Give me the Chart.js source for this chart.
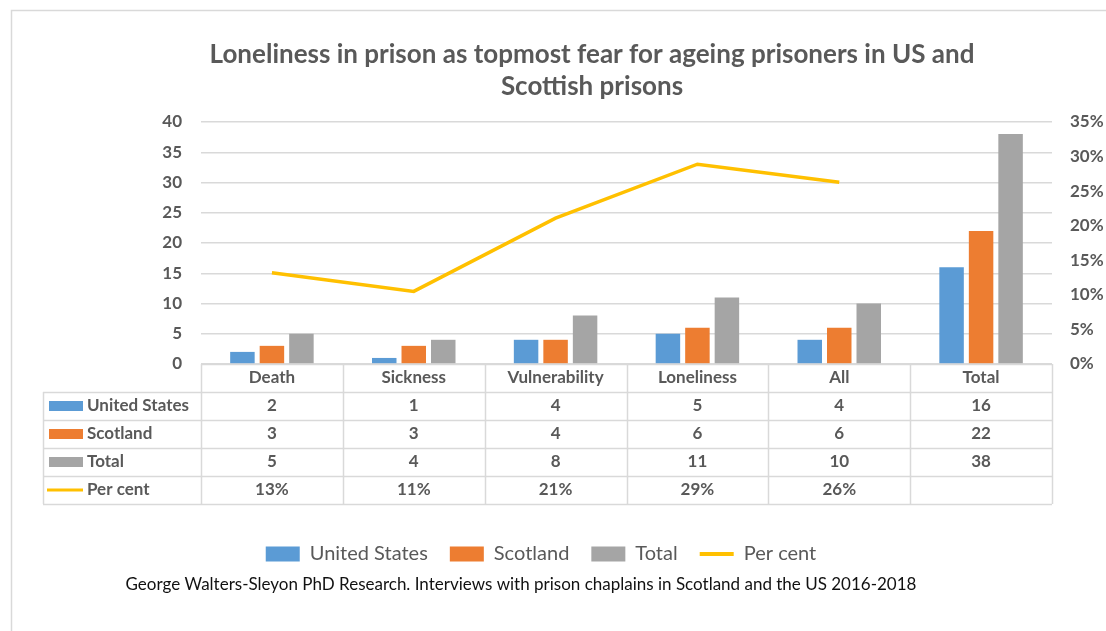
<!DOCTYPE html>
<html>
<head>
<meta charset="utf-8">
<script src="https://cdn.jsdelivr.net/npm/chart.js@4.4.1/dist/chart.umd.min.js"></script>
<style>
  html, body { margin: 0; padding: 0; background: #fff; }
  #wrap { position: relative; width: 1106px; height: 631px; }
</style>
</head>
<body>
<div id="wrap"><canvas id="chart"></canvas></div>
<script>
// categories and counts from the chaplain interviews
var categories = ['Death', 'Sickness', 'Vulnerability', 'Loneliness', 'All', 'Total'];
var unitedStates = [2, 1, 4, 5, 4, 16];
var scotland = [3, 3, 4, 6, 6, 22];
var totals = [5, 4, 8, 11, 10, 38];
// share of all answers, in per cent (no value for the Total column)
var perCent = [13.2, 10.5, 21.1, 28.9, 26.3, null];
var countTicks = [0, 5, 10, 15, 20, 25, 30, 35, 40];
var percentTicks = [0, 5, 10, 15, 20, 25, 30, 35];

var titleText = ['Loneliness in prison as topmost fear for ageing prisoners in US and', 'Scottish prisons'];
var sourceText = 'George Walters-Sleyon PhD Research. Interviews with prison chaplains in Scotland and the US 2016-2018';

var grey = '#595959';
var lineGrey = '#D9D9D9';
var FONT = 'Lato, "Open Sans", sans-serif';
var ROW_H = 28;

Chart.defaults.font.family = FONT;
Chart.defaults.color = grey;

// outer frame of the chart object
var frame = {
  id: 'frame',
  beforeDraw: function(chart) {
    var ctx = chart.ctx;
    ctx.save();
    ctx.fillStyle = '#fff';
    ctx.fillRect(0, 0, chart.width, chart.height);
    ctx.strokeStyle = lineGrey;
    ctx.lineWidth = 1.5;
    ctx.strokeRect(11.5, 10.5, chart.width + 20, chart.height + 20);
    ctx.restore();
  }
};

// move title / legend / source line sideways
var nudge = {
  id: 'nudge',
  afterLayout: function(chart) {
    chart.boxes.forEach(function(b) {
      var d = 0;
      if (b === chart.titleBlock) d = 39;
      else if (b === chart.legend) d = -12;
      else if (b.options && b.options.text === sourceText) d = -32;
      b.left += d;
      b.right += d;
    });
  }
};

// data table under the plot area
var dataTable = {
  id: 'dataTable',
  afterDraw: function(chart) {
    var ctx = chart.ctx, area = chart.chartArea, xs = chart.scales.x;
    var n = categories.length;
    var colW = (area.right - area.left) / n;
    var top = Math.round(area.bottom);
    var left = 43;
    var rows = chart.data.datasets;
    var bottom = top + ROW_H * (rows.length + 1);

    ctx.save();
    ctx.strokeStyle = lineGrey;
    ctx.lineWidth = 1.5;
    ctx.beginPath();
    ctx.moveTo(area.left, top + 0.5);
    ctx.lineTo(area.right, top + 0.5);
    for (var r = 1; r <= rows.length + 1; r++) {
      ctx.moveTo(left, top + r * ROW_H + 0.5);
      ctx.lineTo(area.right, top + r * ROW_H + 0.5);
    }
    for (var c = 0; c <= n; c++) {
      var cx = Math.round(area.left + c * colW) + 0.5;
      ctx.moveTo(cx, top);
      ctx.lineTo(cx, bottom);
    }
    ctx.moveTo(left + 0.5, top + ROW_H);
    ctx.lineTo(left + 0.5, bottom);
    ctx.stroke();

    ctx.fillStyle = grey;
    ctx.font = 'bold 17px ' + FONT;
    ctx.textBaseline = 'middle';
    ctx.textAlign = 'center';
    categories.forEach(function(cat, i) {
      ctx.fillText(cat, xs.getPixelForValue(i), top + ROW_H / 2);
    });

    rows.forEach(function(ds, r) {
      var y = top + (r + 1) * ROW_H + ROW_H / 2;
      // legend key
      if (ds.type === 'line') {
        ctx.strokeStyle = ds.borderColor;
        ctx.lineWidth = 3;
        ctx.beginPath();
        ctx.moveTo(left + 4, y);
        ctx.lineTo(left + 40, y);
        ctx.stroke();
      } else {
        ctx.fillStyle = ds.backgroundColor;
        ctx.fillRect(left + 6, y - 5, 34, 10);
      }
      ctx.fillStyle = grey;
      ctx.textAlign = 'left';
      ctx.fillText(ds.label, left + 44, y);
      ctx.textAlign = 'center';
      ds.data.forEach(function(v, i) {
        if (v === null) return;
        var txt = ds.type === 'line' ? Math.round(v) + '%' : String(v);
        ctx.fillText(txt, xs.getPixelForValue(i), y);
      });
    });
    ctx.restore();
  }
};

var ctx = document.getElementById('chart').getContext('2d');
var chart = new Chart(ctx, {
  type: 'bar',
  data: {
    labels: categories,
    datasets: [
      { label: 'United States', data: unitedStates, backgroundColor: '#5B9BD5', yAxisID: 'y', order: 2 },
      { label: 'Scotland', data: scotland, backgroundColor: '#ED7D31', yAxisID: 'y', order: 2 },
      { label: 'Total', data: totals, backgroundColor: '#A5A5A5', yAxisID: 'y', order: 2 },
      { label: 'Per cent', type: 'line', data: perCent, borderColor: '#FFC000', backgroundColor: '#FFC000',
        borderWidth: 3.5, pointRadius: 0, tension: 0, yAxisID: 'y1', order: 1 }
    ]
  },
  options: {
    responsive: true,
    maintainAspectRatio: false,
    animation: false,
    layout: { padding: { left: 0, right: 0, top: 0, bottom: 0 } },
    datasets: {
      bar: { categoryPercentage: 0.624, barPercentage: 0.83 }
    },
    scales: {
      x: {
        grid: { display: false },
        border: { display: false },
        ticks: { display: false },
        afterFit: function(scale) { scale.height = 158; }
      },
      y: {
        position: 'left',
        min: 0,
        max: 40,
        afterBuildTicks: function(scale) {
          scale.ticks = countTicks.map(function(v) { return { value: v }; });
        },
        grid: { color: lineGrey, lineWidth: 1.5, drawTicks: false },
        border: { display: false },
        ticks: { padding: 19, color: grey, font: { size: 17, weight: 'bold' } },
        afterFit: function(scale) { scale.width = 201; }
      },
      y1: {
        position: 'right',
        min: 0,
        max: 35,
        afterBuildTicks: function(scale) {
          scale.ticks = percentTicks.map(function(v) { return { value: v }; });
        },
        grid: { drawOnChartArea: false, drawTicks: false },
        border: { display: false },
        ticks: {
          padding: 18, color: grey, font: { size: 17, weight: 'bold' },
          callback: function(v) { return v + '%'; }
        },
        afterFit: function(scale) { scale.width = 54; }
      }
    },
    plugins: {
      title: {
        display: true,
        text: titleText,
        color: grey,
        font: { size: 26, weight: 'bold', lineHeight: 32 / 26 },
        padding: { top: 39, bottom: 19 }
      },
      subtitle: {
        display: true,
        position: 'bottom',
        text: sourceText,
        color: '#111',
        font: { size: 17, weight: 'normal', lineHeight: 1.2 },
        padding: { top: 0, bottom: 36.6 }
      },
      legend: {
        position: 'bottom',
        labels: {
          color: grey,
          font: { size: 20, weight: 'normal' },
          usePointStyle: true,
          pointStyleWidth: 34,
          boxHeight: 15,
          padding: 22,
          sort: function(a, b) { return a.datasetIndex - b.datasetIndex; },
          generateLabels: function(chart) {
            var items = Chart.defaults.plugins.legend.labels.generateLabels(chart);
            items.forEach(function(it) {
              var ds = chart.data.datasets[it.datasetIndex];
              if (ds.type === 'line') {
                it.pointStyle = 'line';
                it.lineWidth = 4;
                it.strokeStyle = ds.borderColor;
              } else {
                it.pointStyle = 'rect';
                it.lineWidth = 0;
              }
            });
            return items;
          }
        }
      },
      tooltip: { enabled: false }
    }
  },
  plugins: [frame, nudge, dataTable]
});
</script>
</body>
</html>
